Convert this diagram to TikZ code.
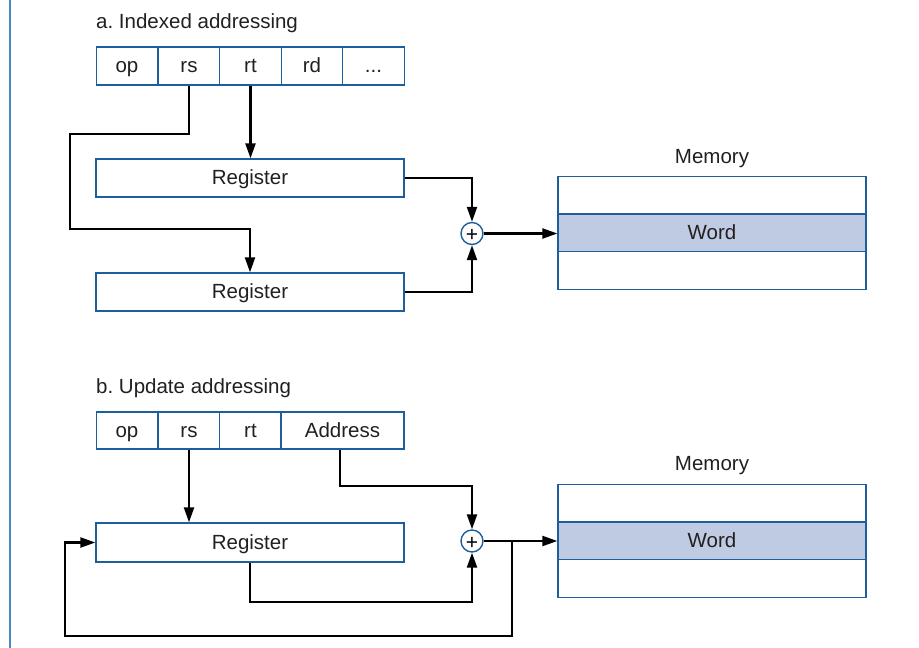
\documentclass[tikz,border=0pt]{standalone}
\usepackage{fontspec}
\setmainfont{Liberation Sans}
\usetikzlibrary{arrows.meta}
\definecolor{boxblue}{HTML}{1D5E9E}
\definecolor{railblue}{HTML}{4A8AC4}
\definecolor{wordfill}{HTML}{BFCBE2}
\definecolor{txt}{HTML}{231F20}
\frenchspacing
\begin{document}
\begin{tikzpicture}[x=1pt,y=-1pt,
  cell/.style={draw=boxblue,line width=1.3pt,minimum height=38pt,inner sep=0pt,text=txt,
    text height=15pt,text depth=2pt,font=\fontsize{20.5}{24}\selectfont},
  lbl/.style={text=txt,inner sep=0pt,font=\fontsize{20.5}{24}\selectfont},
  wire/.style={line width=2.2pt,black},
  arr/.style={wire,-{Triangle[length=15pt,width=10pt]}},
  adder/.style={circle,draw=boxblue,line width=1.4pt,minimum size=22pt,inner sep=0pt,fill=white},
  plus/.style={text=black,inner sep=0pt,font=\fontsize{21}{21}\selectfont}]
\useasboundingbox (0,0) rectangle (919,648);
\draw[railblue,line width=2.2pt] (10,0) -- (10,648);

% ---------- a. Indexed addressing ----------
\node[lbl,anchor=base west] (ta) at (96,28) {a. Indexed addressing};
\node[cell,minimum width=61.6pt] (aop) at (127,66) {op};
\node[cell,minimum width=61.6pt] (ars) at (189,66) {rs};
\node[cell,minimum width=61.6pt] (art) at (250.5,66) {rt};
\node[cell,minimum width=61.6pt] (ard) at (312,66) {rd};
\node[cell,minimum width=61.6pt] (adots) at (373.5,66) {...};
\node[cell,minimum width=308pt] (areg1) at (250,178) {Register};
\node[cell,minimum width=308pt] (areg2) at (250,292) {Register};
\node[lbl,anchor=base] (amem) at (712,163) {Memory};
\node[cell,minimum width=308pt,minimum height=37.7pt] (amt) at (712,195) {};
\node[cell,minimum width=308pt,minimum height=37.7pt,fill=wordfill] (amw) at (712,232.7) {Word};
\node[cell,minimum width=308pt,minimum height=37.7pt] (amb) at (712,270.4) {};
\node[adder] (aadd) at (472,233.5) {};
\node[plus] (aplus) at ([yshift=-2pt]aadd.center) {+};

\draw[arr] (ars.south) |- (70,134) -- (70,229) -| (areg2.north);
\draw[arr] (art.south) -- (art.south |- areg1.north);
\draw[arr] (areg1.east) -| (aadd.north);
\draw[arr] (areg2.east) -| (aadd.south);
\draw[arr] (aadd.east) -- (aadd.east -| amw.west);

% ---------- b. Update addressing ----------
\node[lbl,anchor=base west] (tb) at (96,393) {b. Update addressing};
\node[cell,minimum width=61.6pt,minimum height=37pt] (bop) at (127,430.5) {op};
\node[cell,minimum width=61.6pt,minimum height=37pt] (brs) at (189,430.5) {rs};
\node[cell,minimum width=61.6pt,minimum height=37pt] (brt) at (250.5,430.5) {rt};
\node[cell,minimum width=123pt,minimum height=37pt] (baddr) at (342.5,430.5) {Address};
\node[cell,minimum width=308pt,minimum height=39pt] (breg) at (250,542.5) {Register};
\node[lbl,anchor=base] (bmem) at (712,470) {Memory};
\node[cell,minimum width=308pt,minimum height=37.7pt] (bmt) at (712,503) {};
\node[cell,minimum width=308pt,minimum height=37.7pt,fill=wordfill] (bmw) at (712,540.7) {Word};
\node[cell,minimum width=308pt,minimum height=37.7pt] (bmb) at (712,578.4) {};
\node[adder] (badd) at (472,541) {};
\node[plus] (bplus) at ([yshift=-2pt]badd.center) {+};

\draw[arr] (brs.south) -- (brs.south |- breg.north);
\draw[arr] ([xshift=-2.5pt]baddr.south) -- ++(0,36) -| (badd.north);
\draw[arr] (breg.south) -- ++(0,39) -| (badd.south);
\draw[arr] (badd.east) -- (512,541) -- (512,636) -- (65,636) |- (breg.west);
\draw[arr] (badd.east) -- (badd.east -| bmw.west);
\end{tikzpicture}
\end{document}
